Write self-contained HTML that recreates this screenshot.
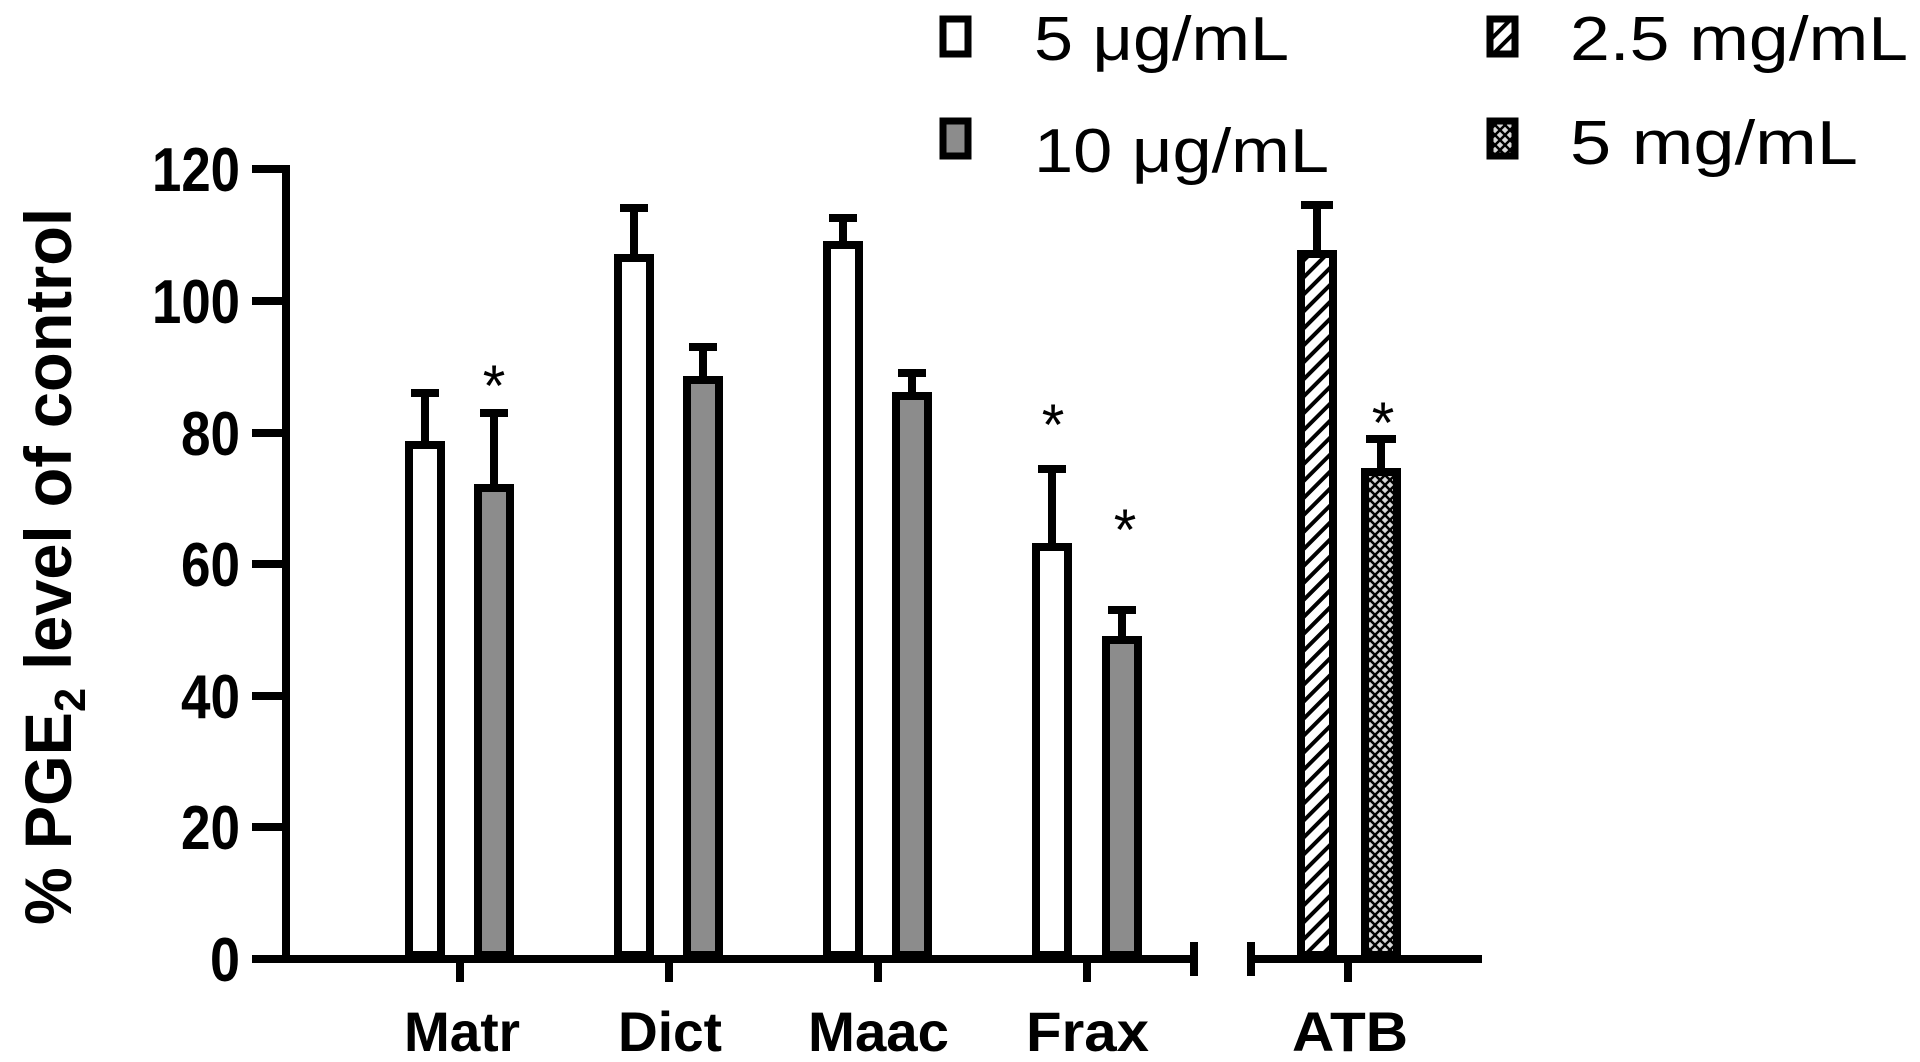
<!DOCTYPE html>
<html><head><meta charset="utf-8"><style>
html,body{margin:0;padding:0;background:#fff;}
svg{display:block;}
text{font-family:"Liberation Sans",Arial,sans-serif;}
</style></head><body>
<svg width="1920" height="1062" viewBox="0 0 1920 1062" xmlns="http://www.w3.org/2000/svg">
<defs>
<pattern id="hatch" patternUnits="userSpaceOnUse" width="12" height="12" patternTransform="rotate(45)">
<rect width="12" height="12" fill="#fff"/>
<rect x="0" y="0" width="4" height="12" fill="#000"/>
</pattern>
<pattern id="cross" patternUnits="userSpaceOnUse" width="10" height="10">
<rect width="10" height="10" fill="#d8d8d8"/>
<path d="M0,0 L10,10 M10,0 L0,10" stroke="#000" stroke-width="2.5"/>
</pattern>
</defs>
<g stroke="#000" stroke-width="8" fill="none">
<line x1="286" y1="165" x2="286" y2="963"/>
<line x1="252" y1="169" x2="286" y2="169"/>
<line x1="252" y1="301" x2="286" y2="301"/>
<line x1="252" y1="433" x2="286" y2="433"/>
<line x1="252" y1="564" x2="286" y2="564"/>
<line x1="252" y1="696" x2="286" y2="696"/>
<line x1="252" y1="827" x2="286" y2="827"/>
<line x1="252" y1="959" x2="286" y2="959"/>
<line x1="252" y1="959" x2="1194" y2="959"/>
<line x1="1194" y1="942" x2="1194" y2="976"/>
<line x1="1251" y1="959" x2="1482" y2="959"/>
<line x1="1251" y1="942" x2="1251" y2="976"/>
<line x1="460" y1="959" x2="460" y2="982"/>
<line x1="669" y1="959" x2="669" y2="982"/>
<line x1="878" y1="959" x2="878" y2="982"/>
<line x1="1087" y1="959" x2="1087" y2="982"/>
<line x1="1348" y1="959" x2="1348" y2="982"/>
</g>
<g stroke="#000" stroke-width="8">
<line x1="425" y1="393" x2="425" y2="445"/><line x1="411" y1="393" x2="439" y2="393"/>
<rect x="409" y="445" width="32" height="510" fill="#fff"/>
<line x1="494" y1="413" x2="494" y2="488"/><line x1="480" y1="413" x2="508" y2="413"/>
<rect x="478" y="488" width="32" height="467" fill="#8c8c8c"/>
<line x1="634" y1="208" x2="634" y2="258"/><line x1="620" y1="208" x2="648" y2="208"/>
<rect x="618" y="258" width="32" height="697" fill="#fff"/>
<line x1="703" y1="347" x2="703" y2="380"/><line x1="689" y1="347" x2="717" y2="347"/>
<rect x="687" y="380" width="32" height="575" fill="#8c8c8c"/>
<line x1="843" y1="218" x2="843" y2="245"/><line x1="829" y1="218" x2="857" y2="218"/>
<rect x="827" y="245" width="32" height="710" fill="#fff"/>
<line x1="912" y1="373" x2="912" y2="396"/><line x1="898" y1="373" x2="926" y2="373"/>
<rect x="896" y="396" width="32" height="559" fill="#8c8c8c"/>
<line x1="1052" y1="469" x2="1052" y2="547"/><line x1="1038" y1="469" x2="1066" y2="469"/>
<rect x="1036" y="547" width="32" height="408" fill="#fff"/>
<line x1="1122" y1="610" x2="1122" y2="640"/><line x1="1108" y1="610" x2="1136" y2="610"/>
<rect x="1106" y="640" width="32" height="315" fill="#8c8c8c"/>
<line x1="1317" y1="205" x2="1317" y2="254"/><line x1="1301" y1="205" x2="1333" y2="205"/>
<rect x="1301" y="254" width="32" height="701" fill="url(#hatch)"/>
<line x1="1381" y1="439" x2="1381" y2="472"/><line x1="1366" y1="439" x2="1396" y2="439"/>
<rect x="1365" y="472" width="32" height="483" fill="url(#cross)"/>
</g>
<g font-size="58" text-anchor="middle" fill="#000">
<text x="494" y="406">*</text>
<text x="1053" y="445">*</text>
<text x="1125" y="550">*</text>
<text x="1383" y="443">*</text>
</g>
<g font-size="62" font-weight="bold" text-anchor="end" fill="#000">
<text x="240" y="191" textLength="88" lengthAdjust="spacingAndGlyphs">120</text>
<text x="240" y="323" textLength="88" lengthAdjust="spacingAndGlyphs">100</text>
<text x="240" y="455" textLength="59" lengthAdjust="spacingAndGlyphs">80</text>
<text x="240" y="586" textLength="59" lengthAdjust="spacingAndGlyphs">60</text>
<text x="240" y="718" textLength="59" lengthAdjust="spacingAndGlyphs">40</text>
<text x="240" y="849" textLength="59" lengthAdjust="spacingAndGlyphs">20</text>
<text x="240" y="981" textLength="30" lengthAdjust="spacingAndGlyphs">0</text>
</g>
<g font-size="56" font-weight="bold" fill="#000">
<text x="404" y="1051" textLength="116" lengthAdjust="spacingAndGlyphs">Matr</text>
<text x="618" y="1051" textLength="104" lengthAdjust="spacingAndGlyphs">Dict</text>
<text x="808" y="1051" textLength="141" lengthAdjust="spacingAndGlyphs">Maac</text>
<text x="1026" y="1051" textLength="123" lengthAdjust="spacingAndGlyphs">Frax</text>
<text x="1292" y="1051" textLength="116" lengthAdjust="spacingAndGlyphs">ATB</text>
</g>
<text transform="translate(71,925) rotate(-90)" font-size="66" font-weight="bold" fill="#000" textLength="717" lengthAdjust="spacingAndGlyphs">% PGE<tspan font-size="44" dy="14">2</tspan><tspan dy="-14"> level of control</tspan></text>
<g stroke="#000" stroke-width="7">
<rect x="943" y="19" width="25" height="35" fill="#fff"/>
<rect x="943" y="121" width="25" height="35" fill="#8c8c8c"/>
<rect x="1490" y="19" width="25" height="35" fill="url(#hatch)"/>
<rect x="1490" y="121" width="25" height="35" fill="url(#cross)"/>
</g>
<g font-size="62" fill="#000">
<text x="1034" y="60" textLength="255" lengthAdjust="spacingAndGlyphs">5 μg/mL</text>
<text x="1034" y="172" textLength="295" lengthAdjust="spacingAndGlyphs">10 μg/mL</text>
<text x="1570" y="60" textLength="338" lengthAdjust="spacingAndGlyphs">2.5 mg/mL</text>
<text x="1570" y="164" textLength="288" lengthAdjust="spacingAndGlyphs">5 mg/mL</text>
</g>
</svg>
</body></html>
